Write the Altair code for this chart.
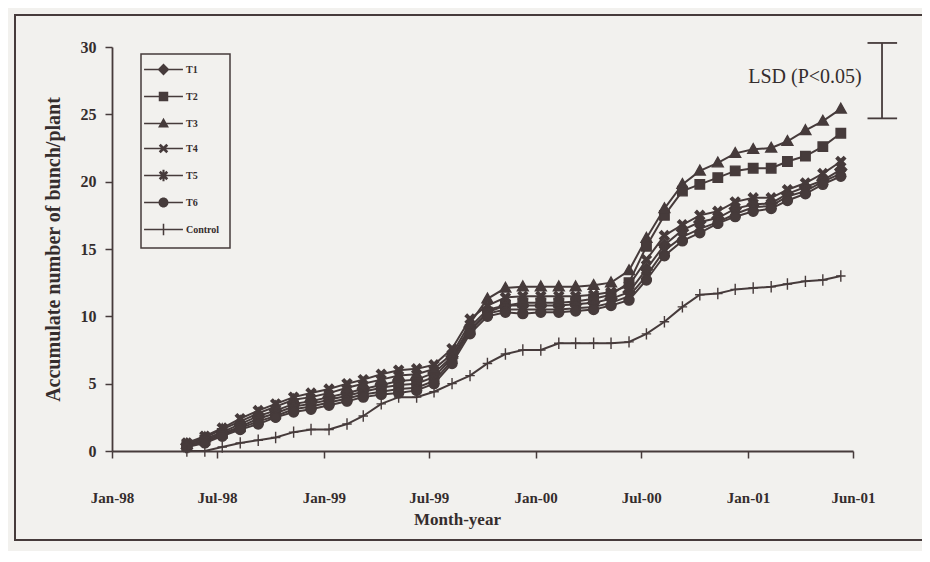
import altair as alt
import pandas as pd

# ---------------- data ----------------
series = ["T1", "T2", "T3", "T4", "T5", "T6", "Control"]

# monthly observations, May-98 ... Jun-01 (taken around the 10th of each month)
obs_months = [(1998 + m // 12, m % 12 + 1) for m in range(4, 42)]
dates = [f"{y}-{mo:02d}-10" for (y, mo) in obs_months]

T1 = [0.5, 0.9, 1.4, 2.0, 2.6, 3.0, 3.5, 3.7, 4.0, 4.3, 4.6, 4.9, 5.2, 5.3, 5.8,
      7.0, 9.2, 10.5, 10.8, 10.8, 10.8, 10.8, 10.9, 11.0, 11.3, 11.8,
      13.5, 15.3, 16.4, 17.0, 17.3, 18.0, 18.3, 18.4, 19.1, 19.6, 20.1, 20.9]
T2 = [0.4, 0.8, 1.3, 1.8, 2.4, 2.8, 3.3, 3.5, 3.8, 4.1, 4.4, 4.7, 4.9, 5.0, 5.5,
      6.9, 9.0, 10.3, 10.8, 11.0, 11.0, 11.0, 11.1, 11.3, 11.6, 12.5,
      15.2, 17.5, 19.3, 19.8, 20.3, 20.8, 21.0, 21.0, 21.5, 21.9, 22.6, 23.6]
T3 = [0.5, 1.0, 1.6, 2.2, 2.8, 3.3, 3.8, 4.0, 4.3, 4.7, 5.0, 5.3, 5.6, 5.7, 6.1,
      7.2, 9.5, 11.3, 12.1, 12.2, 12.2, 12.2, 12.2, 12.3, 12.5, 13.4,
      15.8, 18.0, 19.8, 20.8, 21.4, 22.1, 22.4, 22.5, 23.0, 23.8, 24.5, 25.4]
T4 = [0.6, 1.1, 1.7, 2.4, 3.0, 3.5, 4.0, 4.3, 4.6, 5.0, 5.3, 5.7, 6.0, 6.1, 6.4,
      7.6, 9.8, 10.8, 11.4, 11.5, 11.5, 11.5, 11.5, 11.6, 11.8, 12.3,
      14.2, 16.0, 16.8, 17.5, 17.8, 18.5, 18.8, 18.8, 19.4, 19.9, 20.6, 21.5]
T5 = [0.3, 0.7, 1.2, 1.7, 2.2, 2.6, 3.1, 3.3, 3.6, 3.9, 4.2, 4.4, 4.6, 4.7, 5.2,
      6.7, 8.9, 10.2, 10.5, 10.5, 10.5, 10.5, 10.6, 10.7, 11.0, 11.5,
      13.0, 14.9, 15.9, 16.5, 17.0, 17.6, 18.1, 18.2, 18.9, 19.3, 20.0, 20.6]
T6 = [0.3, 0.6, 1.1, 1.6, 2.0, 2.5, 2.9, 3.1, 3.4, 3.7, 4.0, 4.2, 4.3, 4.5, 5.0,
      6.5, 8.7, 10.0, 10.3, 10.2, 10.3, 10.3, 10.4, 10.5, 10.8, 11.2,
      12.7, 14.5, 15.6, 16.2, 16.9, 17.4, 17.8, 18.0, 18.6, 19.1, 19.8, 20.4]
Control = [0.0, 0.0, 0.3, 0.6, 0.8, 1.0, 1.4, 1.6, 1.6, 2.0, 2.6, 3.5, 4.0, 4.0, 4.4,
           5.0, 5.6, 6.5, 7.2, 7.5, 7.5, 8.0, 8.0, 8.0, 8.0, 8.1,
           8.7, 9.6, 10.7, 11.6, 11.7, 12.0, 12.1, 12.2, 12.4, 12.6, 12.7, 13.0]

values_by_series = {"T1": T1, "T2": T2, "T3": T3, "T4": T4, "T5": T5, "T6": T6,
                    "Control": Control}

tick_dates = ["1998-01-01", "1998-07-01", "1999-01-01", "1999-07-01",
              "2000-01-01", "2000-07-01", "2001-01-01", "2001-07-01"]
tick_labels = ["Jan-98", "Jul-98", "Jan-99", "Jul-99",
               "Jan-00", "Jul-00", "Jan-01", "Jun-01"]
y_ticks = [0, 5, 10, 15, 20, 25, 30]

# LSD bar (P<0.05)
lsd_low, lsd_high = 24.7, 30.3
lsd_date = "2001-08-20"
lsd_cap_dates = ["2001-07-26", "2001-09-15"]
lsd_text_date, lsd_text_value = "2001-07-16", 27.8

# ---------------- styling ----------------
DARK = "#463b3b"
TEXT = "#352d2d"
BG = "#f2f1ee"
SERIF = "Liberation Serif"

X_SHAPE = "M-1,-0.6L-0.6,-1L0,-0.4L0.6,-1L1,-0.6L0.4,0L1,0.6L0.6,1L0,0.4L-0.6,1L-1,0.6L-0.4,0Z"
shape_paths = {
    "T1": "M0,-1.25L1.25,0L0,1.25L-1.25,0Z",
    "T2": "M-1,-1H1V1H-1Z",
    "T3": "M0,-1.2L1.15,0.85H-1.15Z",
    "T4": X_SHAPE,
    "T5": X_SHAPE + "M-0.22,-1.2H0.22V1.2H-0.22Z",
    "T6": "M1.05,0A1.05,1.05,0,1,1,-1.05,0A1.05,1.05,0,1,1,1.05,0Z",
    "Control": "M-1,0H1M0,-1.2V1.2",
}
# legend symbols: the connecting line drawn as a thin filled bar through the marker
legend_line = "M-4.1,-0.16H4.1V0.16H-4.1Z"
legend_paths = dict(shape_paths)
legend_paths["Control"] = "M-0.16,-1.2H0.16V1.2H-0.16Z"

# ---------------- table ----------------
rows = []
for s in series:
    for d, v in zip(dates, values_by_series[s]):
        rows.append({"series": s, "date": d, "value": v})
df = pd.DataFrame(rows)


def ms(d):
    return int(pd.Timestamp(d, tz="UTC").value // 10**6)


label_expr = ""
for d, lab in zip(tick_dates, tick_labels):
    label_expr += f"utcFormat(datum.value, '%Y-%m') === '{d[:7]}' ? '{lab}' : "
label_expr += "''"

X = alt.X(
    "date:T",
    scale=alt.Scale(type="utc", domain=[ms(tick_dates[0]), ms(tick_dates[-1])]),
    axis=alt.Axis(
        values=[ms(d) for d in tick_dates], labelExpr=label_expr,
        title="Month-year", grid=False,
        labelFont=SERIF, labelFontSize=15, labelFontWeight="bold", labelColor=TEXT,
        labelPadding=32, labelFlush=False, labelOverlap=False,
        titleFont=SERIF, titleFontSize=17, titleFontWeight="bold", titleColor=TEXT,
        titleX=345, titleY=60, titleBaseline="top",
        tickSize=7, tickColor=DARK, tickWidth=1.5,
        domainColor=DARK, domainWidth=1.8,
    ),
)
Y = alt.Y(
    "value:Q",
    scale=alt.Scale(domain=[0, 30], nice=False, zero=True),
    axis=alt.Axis(
        values=y_ticks, title="Accumulate number of bunch/plant", grid=False,
        labelFont=SERIF, labelFontSize=16, labelFontWeight="bold", labelColor=TEXT,
        labelPadding=9,
        titleFont=SERIF, titleFontSize=20, titleFontWeight="bold", titleColor=TEXT,
        titlePadding=17, tickSize=7, tickColor=DARK, tickWidth=1.5,
        domainColor=DARK, domainWidth=1.8,
    ),
)

base = alt.Chart(df)

lines = base.mark_line(color=DARK, strokeWidth=2).encode(
    x=X, y=Y, detail="series:N"
)

points = base.mark_point(
    filled=True, size=90, fill=DARK, stroke=DARK, strokeWidth=1.4, opacity=1
).encode(
    x=X, y=Y,
    shape=alt.Shape(
        "series:N",
        scale=alt.Scale(domain=series, range=[shape_paths[s] for s in series]),
        legend=None,
    ),
)

# invisible layer whose shape scale carries "line + marker" symbols for the legend
legend_layer = base.mark_point(
    filled=True, size=90, fill=DARK, stroke=DARK, opacity=0
).encode(
    x=X, y=Y,
    shape=alt.Shape(
        "series:N",
        scale=alt.Scale(domain=series,
                        range=[legend_line + legend_paths[s] for s in series]),
        legend=alt.Legend(
            title=None, orient="none", legendX=29, legendY=7,
            padding=10, rowPadding=11,
            strokeColor=DARK, fillColor=BG,
            symbolSize=90, symbolFillColor=DARK, symbolStrokeColor=DARK,
            symbolStrokeWidth=1.0, symbolOpacity=1, symbolOffset=7,
            labelFont=SERIF, labelFontSize=10, labelFontWeight="bold",
            labelColor=TEXT, labelOffset=17,
        ),
    ),
)

# outer frame of the figure
frame = alt.Chart(pd.DataFrame({"a": [0]})).mark_rect(
    fillOpacity=0, stroke=DARK, strokeWidth=2
).encode(
    x=alt.value(-97), x2=alt.value(840), y=alt.value(-32), y2=alt.value(493)
)

lsd_bar_df = pd.DataFrame({"date": [lsd_date], "value": [lsd_low], "value2": [lsd_high]})
lsd_cap_df = pd.DataFrame({
    "date": [lsd_cap_dates[0]] * 2, "date2": [lsd_cap_dates[1]] * 2,
    "value": [lsd_low, lsd_high],
})
lsd_text_df = pd.DataFrame({"date": [lsd_text_date], "value": [lsd_text_value],
                            "label": ["LSD (P<0.05)"]})

lsd_bar = alt.Chart(lsd_bar_df).mark_rule(color=DARK, strokeWidth=1.8).encode(
    x=X, y=Y, y2=alt.Y2("value2:Q")
)
lsd_caps = alt.Chart(lsd_cap_df).mark_rule(color=DARK, strokeWidth=1.8).encode(
    x=X, x2=alt.X2("date2:T"), y=Y
)
lsd_text = alt.Chart(lsd_text_df).mark_text(
    align="right", baseline="middle", font=SERIF, fontSize=20, color=TEXT
).encode(x=X, y=Y, text="label:N")

chart = alt.layer(
    frame, lines, points, legend_layer, lsd_bar, lsd_caps, lsd_text
).resolve_scale(shape="independent").properties(
    width=741, height=404,
    padding={"left": 104, "top": 39, "right": 69, "bottom": 100},
    autosize=alt.AutoSizeParams(type="none"),
    background=BG,
).configure_view(stroke=None).configure_legend(strokeWidth=1.5)

chart.save("out.html", embed_options={"renderer": "svg", "actions": False})
